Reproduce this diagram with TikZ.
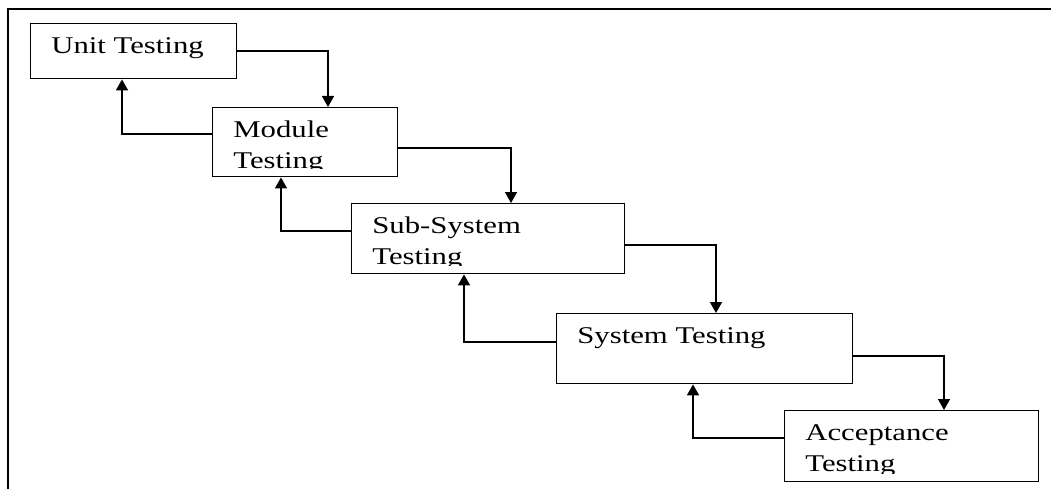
\documentclass[tikz,border=0pt]{standalone}
\usepackage{fontspec}
\setmainfont{Liberation Serif}[FakeStretch=1.28]
\usetikzlibrary{arrows.meta}
\tikzset{
  stagebox/.style={draw, line width=1.4pt, rectangle, inner sep=0pt, anchor=north west},
  stagetext/.style={anchor=base west, inner sep=0pt, minimum width=0pt, minimum height=0pt, draw=none, font=\fontsize{24}{31}\selectfont},
  boxlabel/.style={path picture={
    \clip ([yshift=8.5pt]path picture bounding box.south west) rectangle (path picture bounding box.north east);
    \node[stagetext] at ([shift={(20pt,-30pt)}]path picture bounding box.north west) {\begin{tabular}[t]{@{}l@{}}#1\end{tabular}};}},
  flow/.style={line width=1.5pt, -{Triangle[width=12pt,length=11pt]}},
  frameline/.style={line width=2pt}
}
\begin{document}
\begin{tikzpicture}[x=1pt,y=-1pt]
\useasboundingbox (0,0) rectangle (1051,489);
\draw[frameline] (1051,9) -- (8,9) -- (8,489);
\node[stagebox, minimum width=206pt, minimum height=55pt, boxlabel={Unit Testing}] (u) at (30,23) {};
\node[stagebox, minimum width=185pt, minimum height=69pt, boxlabel={Module\\Testing}] (m) at (212,107) {};
\node[stagebox, minimum width=273pt, minimum height=70pt, boxlabel={Sub-System\\Testing}] (s) at (351,203) {};
\node[stagebox, minimum width=296pt, minimum height=70pt, boxlabel={System Testing}] (y) at (556,313) {};
\node[stagebox, minimum width=254pt, minimum height=71pt, boxlabel={Acceptance\\Testing}] (a) at (784,410) {};
% forward
\draw[flow] (u.east) -| ([xshift=116pt]m.north west);
\draw[flow] ([yshift=-41pt]m.north east) -| ([xshift=160pt]s.north west);
\draw[flow] ([yshift=-42pt]s.north east) -| ([xshift=160pt]y.north west);
\draw[flow] ([yshift=-43pt]y.north east) -| ([xshift=160pt]a.north west);
% backward
\draw[flow] ([yshift=-27pt]m.north west) -| ([xshift=92pt]u.south west);
\draw[flow] ([yshift=-28pt]s.north west) -| ([xshift=69pt]m.south west);
\draw[flow] ([yshift=-29pt]y.north west) -| ([xshift=113pt]s.south west);
\draw[flow] ([yshift=-28pt]a.north west) -| ([xshift=137pt]y.south west);
\end{tikzpicture}
\end{document}
